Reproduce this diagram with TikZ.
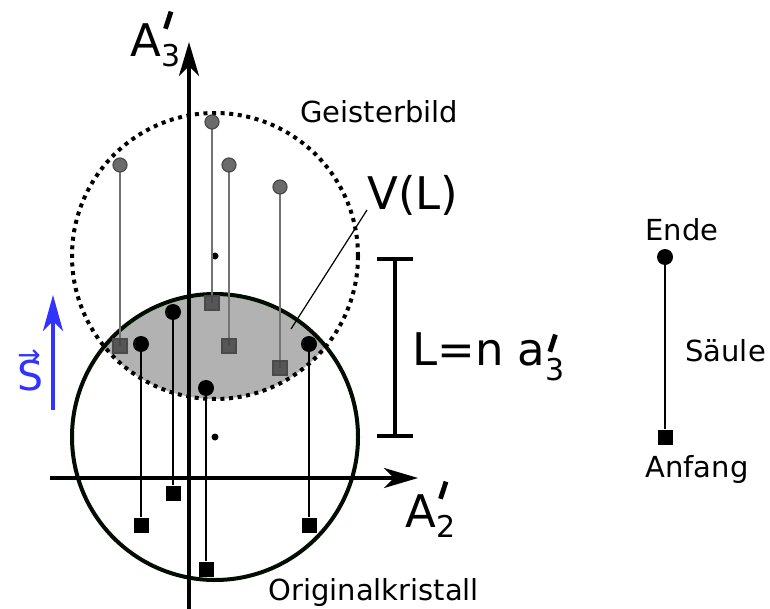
\documentclass[tikz,border=0pt]{standalone}
\usepackage{fontspec}
\setmainfont{DejaVu Sans}
\usetikzlibrary{arrows.meta, positioning}
\definecolor{sblue}{HTML}{3333FF}
\definecolor{ghostfill}{HTML}{6B6B6B}
\definecolor{ghostsq}{HTML}{404040}
\definecolor{ghostline}{HTML}{4A4A4A}
% Buchstabe mit Strich und Index: #1 Buchstabe, #2 Index, #3 Hoehe Strich, #4 Tiefe Index
\newcommand{\primesub}[4]{#1\makebox[0pt][l]{\hspace{1pt}\raisebox{#3}{\rotatebox{-18}{\rule{2.4pt}{9pt}}}}\raisebox{-#4}{\fontsize{15}{18}\selectfont #2}}

\begin{document}
\begin{tikzpicture}[x=0.5pt, y=-0.5pt,
    lbl/.style={inner sep=0pt, anchor=base west, font=\fontsize{14.5}{17}\selectfont},
    biglbl/.style={inner sep=0pt, anchor=base west, font=\fontsize{22.5}{27}\selectfont},
    endpt/.style={circle, fill=black, inner sep=0pt, minimum size=8pt},
    startpt/.style={rectangle, fill=black, inner sep=0pt, minimum size=7.5pt},
    gendpt/.style={circle, fill=ghostfill, draw=ghostline, line width=0.6pt, inner sep=0pt, minimum size=7pt},
    gstartpt/.style={rectangle, fill=ghostsq, fill opacity=0.8, draw=ghostline, line width=0.6pt, inner sep=0pt, minimum size=7pt},
    middot/.style={circle, fill=black, inner sep=0pt, minimum size=3.5pt},
    column/.style={line width=1pt},
    gcolumn/.style={line width=0.7pt, draw=black!55},
    axis/.style={-{Stealth[length=17pt, width=10pt, inset=5pt]}}]
    \useasboundingbox (0,0) rectangle (770,609);

    \coordinate (oc) at (215,437);
    \coordinate (gc) at (215,256);
    \begin{scope}
        \clip (gc) circle[radius=71.5pt];
        \fill[black!30] (oc) circle[radius=71.5pt];
    \end{scope}
    \draw[line width=2pt, draw=black!95!green] (oc) circle[radius=71.5pt];
    \draw[line width=2pt, dash pattern=on 2pt off 2.3pt] (gc) circle[radius=71.5pt];
    \node[middot] (ocdot) at (oc) {};
    \node[middot] (gcdot) at (gc) {};

    % Saeulen des Geisterbilds
    \foreach \x/\y [count=\i] in {120/165, 212/122, 229/165, 280/187} {
        \draw[gcolumn] (\x,\y+181) -- (\x,\y);
        \node[gstartpt] (ga\i) at (\x,\y+181) {};
        \node[gendpt] (ge\i) at (\x,\y) {};
    }

    % Achsen
    \coordinate (a3low) at (189,609);
    \coordinate (a3tip) at (189,42);
    \draw[axis, line width=2.2pt] (a3low) -- (a3tip);
    \coordinate (a2low) at (50,478);
    \coordinate (a2tip) at (418,478);
    \draw[axis, line width=1.7pt] (a2low) -- (a2tip);
    \node[biglbl] (a3lab) at (130,57) {\primesub{A}{3}{14.5pt}{5pt}};
    \node[biglbl] (a2lab) at (405,527) {\primesub{A}{2}{14.5pt}{5pt}};

    % Saeulen des Originalkristalls
    \foreach \x/\y [count=\i] in {141/344, 173/312, 206/388, 309/344} {
        \node[endpt] (e\i) at (\x,\y) {};
        \node[startpt] (a\i) at (\x,\y+181) {};
        \draw[column] (a\i) -- (e\i);
    }

    \node[lbl] (geist) at (300,123) {Geisterbild};
    \node[lbl] (orig) at (268,600) {Originalkristall};

    \node[biglbl] (vlab) at (367,210) {V(L)};
    \coordinate (vl) at (291,329);
    \draw[line width=0.6pt] (vl) -- (vlab.base west);

    \coordinate (ltop) at (395,257);
    \coordinate (lbot) at (395,438);
    \draw[{Bar[width=18pt]}-{Bar[width=18pt]}, line width=1.9pt] (ltop) -- (lbot);
    \node[biglbl] (llab) at (412,365) {L=n \primesub{a}{3}{7pt}{7.5pt}};

    \coordinate (sfoot) at (53,410);
    \coordinate (stip) at (53,295);
    \draw[-{Stealth[length=18pt, width=10pt, inset=5pt]}, line width=1.6pt, sblue] (sfoot) -- (stip);
    \node[inner sep=0pt, anchor=base west, text=sblue, font=\fontsize{20.5}{24}\selectfont] (slab) at (17,390)
        {\makebox[0pt][l]{\raisebox{13pt}{\fontsize{14}{16}\selectfont →}}S};

    % Legende
    \node[endpt] (lend) at (665,257) {};
    \node[startpt] (lanf) at (665,437) {};
    \draw[line width=0.8pt] (lanf) -- (lend);
    \node[lbl] (ende) at (645,241) {Ende};
    \node[lbl] (saeule) at (685,361) {Säule};
    \node[lbl] (anfang) at (645,477) {Anfang};
\end{tikzpicture}
\end{document}
